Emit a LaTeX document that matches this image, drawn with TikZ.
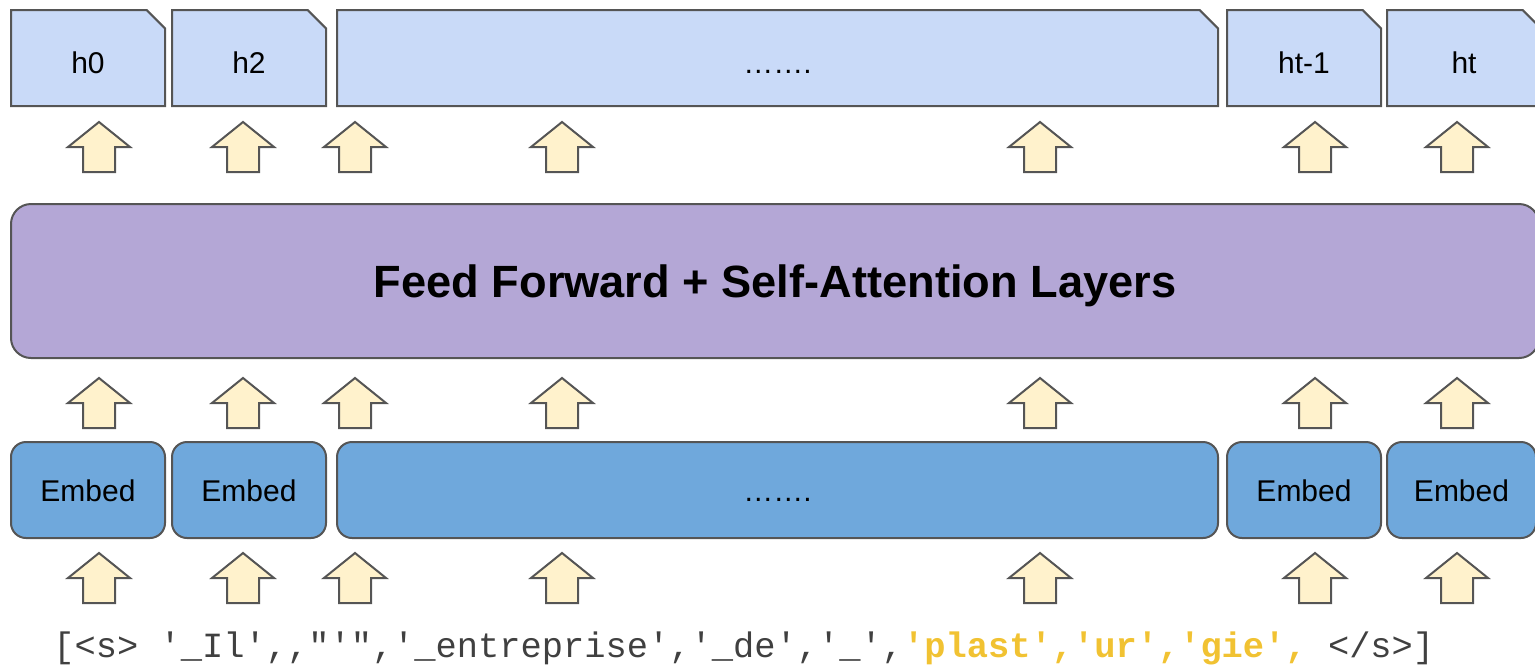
\documentclass[tikz,border=0pt]{standalone}
\usepackage{fontspec}
\setmainfont{Liberation Sans}
\setmonofont{Liberation Mono}
\usetikzlibrary{shapes.misc}

\definecolor{hblue}{HTML}{C9DAF8}
\definecolor{layerpurple}{HTML}{B4A7D6}
\definecolor{embblue}{HTML}{6FA8DC}
\definecolor{arrowcream}{HTML}{FFF2CC}
\definecolor{edgegray}{HTML}{555555}
\definecolor{tokgray}{HTML}{404040}
\definecolor{tokyellow}{HTML}{F1C232}

\tikzset{
	labelfont/.style={font=\fontsize{15}{18}\selectfont},
	hstate/.style={chamfered rectangle, chamfered rectangle corners=north east,
		chamfered rectangle xsep=4.6pt, chamfered rectangle ysep=4.6pt,
		draw=edgegray, fill=hblue, line width=1pt, inner sep=0pt,
		minimum height=48pt, text height=15.8pt, text depth=0pt, labelfont},
	embed/.style={rectangle, rounded corners=7.5pt, draw=edgegray, fill=embblue,
		line width=1pt, inner sep=0pt, minimum height=48pt,
		text height=11.8pt, text depth=0pt, labelfont},
	uparrow/.pic={
		\draw[edgegray, fill=arrowcream, line width=1pt, line join=miter]
			(-16,50) -- (-16,25) -- (-31,25) -- (0,0) -- (31,25) -- (16,25) -- (16,50) -- cycle;
	}
}

\begin{document}
\begin{tikzpicture}[x=0.5pt,y=-0.5pt]
	\useasboundingbox (0,0) rectangle (1535,666);
	\clip (0,0) rectangle (1535,666);

	% hidden states
	\node[hstate, minimum width=77pt]    (h0)   at (88,58)     {h0};
	\node[hstate, minimum width=77pt]    (h2)   at (249,58)    {h2};
	\node[hstate, minimum width=440.5pt] (hmid) at (777.5,58)  {…….};
	\node[hstate, minimum width=77pt]    (htm)  at (1304,58)   {ht-1};
	\node[hstate, minimum width=77pt]    (ht)   at (1464,58)   {ht};

	% transformer block
	\node[rectangle, rounded corners=10pt, draw=edgegray, fill=layerpurple, line width=1pt,
		minimum width=764pt, minimum height=77pt, inner sep=0pt,
		text height=16pt, text depth=0pt,
		font=\bfseries\fontsize{22.6}{26}\selectfont] (layers) at (775,281)
		{Feed Forward + Self-Attention Layers};

	% embeddings
	\node[embed, minimum width=77pt]    (e0)   at (88,490)     {Embed};
	\node[embed, minimum width=77pt]    (e1)   at (249,490)    {Embed};
	\node[embed, minimum width=440.5pt] (emid) at (777.5,490)  {…….};
	\node[embed, minimum width=77pt]    (etm)  at (1304,490)   {Embed};
	\node[embed, minimum width=74.5pt]  (et)   at (1461.5,490) {Embed};

	% block arrows between the rows
	\foreach \x in {99,243,355,562,1040,1315,1457}
		\foreach \y in {122,378,553}
			\pic at (\x,\y) {uparrow};

	% input tokens
	\node[anchor=west, inner sep=0pt, text=tokgray,
		font=\ttfamily\fontsize{17.7}{20}\selectfont] (tokens) at (53,648)
		{[<s> '\_Il',,"'",'\_entreprise','\_de','\_',\textcolor{tokyellow}{\bfseries 'plast','ur','gie',} </s>]};
\end{tikzpicture}
\end{document}
